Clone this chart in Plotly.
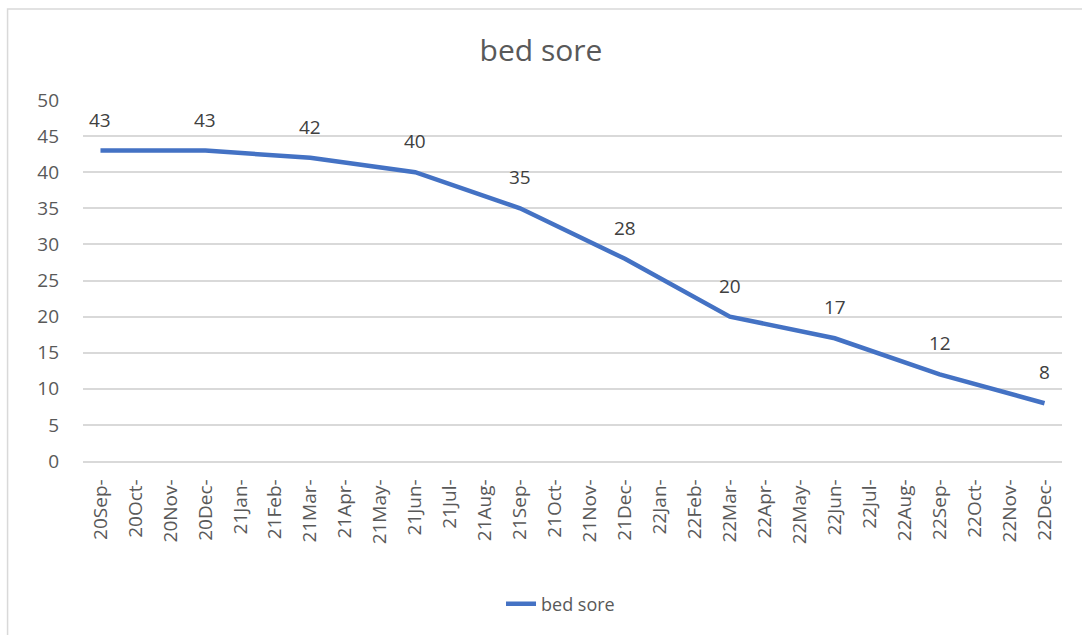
import plotly.graph_objects as go

months = ["20Sep-", "20Oct-", "20Nov-", "20Dec-", "21Jan-", "21Feb-", "21Mar-", "21Apr-",
          "21May-", "21Jun-", "21Jul-", "21Aug-", "21Sep-", "21Oct-", "21Nov-", "21Dec-",
          "22Jan-", "22Feb-", "22Mar-", "22Apr-", "22May-", "22Jun-", "22Jul-", "22Aug-",
          "22Sep-", "22Oct-", "22Nov-", "22Dec-"]
point_months = ["20Sep-", "20Dec-", "21Mar-", "21Jun-", "21Sep-", "21Dec-",
                "22Mar-", "22Jun-", "22Sep-", "22Dec-"]
bed_sore = [43, 43, 42, 40, 35, 28, 20, 17, 12, 8]
y_ticks = [0, 5, 10, 15, 20, 25, 30, 35, 40, 45, 50]

FONT = "Open Sans"
W, H = 1082, 635
L, R, T, B = 82.5, 19.5, 100, 174

fig = go.Figure()
fig.add_trace(go.Scatter(
    x=point_months, y=bed_sore, mode="lines", name="bed sore",
    line=dict(color="#4472C4", width=4.5), showlegend=True,
))

for m, v in zip(point_months, bed_sore):
    fig.add_annotation(x=m, y=v, text=str(v), showarrow=False, yshift=31,
                       font=dict(family=FONT, size=19, color="#404040"))

pw = W - L - R
ph = H - T - B
fig.add_shape(type="rect", xref="paper", yref="paper",
              x0=(7 - L) / pw, x1=(W + 20 - L) / pw,
              y0=(H - B - (H + 20)) / ph, y1=(H - B - 9) / ph,
              line=dict(color="#D9D9D9", width=1.5), fillcolor="rgba(0,0,0,0)", layer="below")

fig.update_layout(
    width=W, height=H,
    margin=dict(l=L, r=R, t=T, b=B),
    paper_bgcolor="white", plot_bgcolor="white",
    title=dict(text="bed sore", x=0.5, xref="container", y=1 - 50 / H, yref="container",
               xanchor="center", yanchor="middle",
               font=dict(family=FONT, size=30, color="#595959")),
    xaxis=dict(type="category", categoryorder="array", categoryarray=months,
               tickmode="array", tickvals=months, ticktext=months,
               tickangle=-90, range=[-0.5, len(months) - 0.5],
               showgrid=False, showline=True, linecolor="#D9D9D9", linewidth=1.5,
               ticks="", ticklabelstandoff=9,
               tickfont=dict(family=FONT, size=19, color="#595959")),
    yaxis=dict(range=[0, 50], tickmode="array", tickvals=y_ticks,
               showgrid=True, gridcolor="#D9D9D9", gridwidth=1.5,
               zeroline=False, showline=False, ticks="", ticklabelstandoff=23,
               tickfont=dict(family=FONT, size=19, color="#595959")),
    legend=dict(orientation="h", x=0.5 - 12 / pw, xanchor="center", y=(H - B - 604) / ph,
                yanchor="middle", font=dict(family=FONT, size=18, color="#595959"),
                bgcolor="rgba(0,0,0,0)"),
    showlegend=True,
)

fig.write_html("out.html", config={"displayModeBar": False},
               post_script="document.body.style.margin='0px';")
